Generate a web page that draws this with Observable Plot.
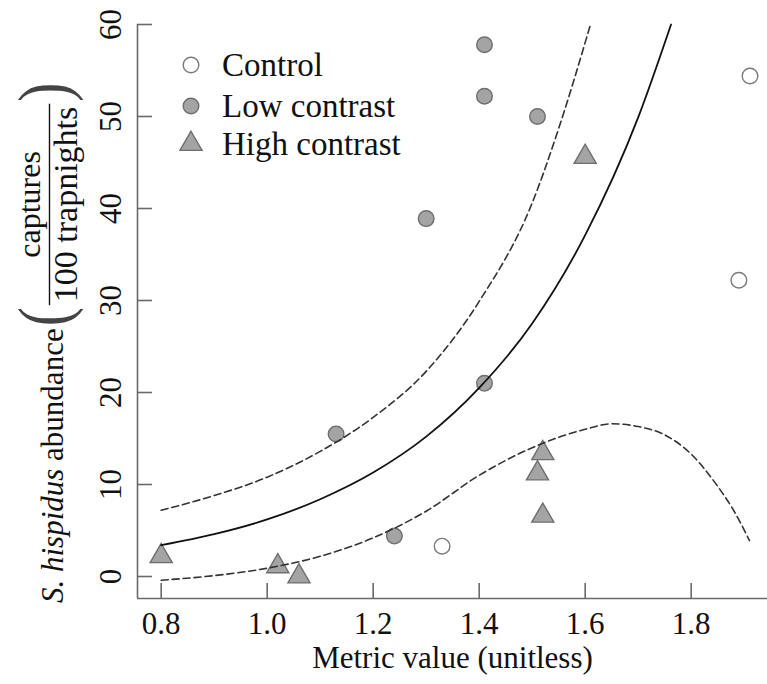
<!DOCTYPE html>
<html><head><meta charset="utf-8">
<script src="https://cdn.jsdelivr.net/npm/d3@7"></script>
<script src="https://cdn.jsdelivr.net/npm/@observablehq/plot@0.6"></script>
<style>
html,body{margin:0;padding:0;background:#fff;}
#wrap{position:relative;width:767px;height:684px;}
</style></head><body><div id="wrap"></div>
<script>
// ---- data ----
const controlX = [1.911, 1.890, 1.330];
const controlY = [54.4, 32.2, 3.3];
const lowX = [1.41, 1.41, 1.51, 1.30, 1.13, 1.24, 1.41];
const lowY = [57.8, 52.2, 50.0, 38.9, 15.5, 4.4, 21.0];
const highX = [0.80, 1.02, 1.06, 1.52, 1.51, 1.52, 1.60];
const highY = [2.2, 1.1, 0.0, 13.4, 11.2, 6.6, 45.6];

const fitX = [0.8, 0.9, 1.0, 1.1, 1.2, 1.3, 1.4, 1.5, 1.6, 1.7, 1.762];
const fitY = [3.4, 4.6, 6.2, 8.4, 11.3, 15.2, 20.5, 27.5, 37.1, 49.9, 60];
const upperX = [0.8, 0.9, 1.0, 1.1, 1.2, 1.3, 1.4, 1.5, 1.55, 1.61];
const upperY = [7.2, 8.8, 10.8, 13.6, 17.3, 22.3, 29.9, 40.6, 48.7, 60];
const lowerX = [0.8, 0.9, 1.0, 1.1, 1.2, 1.3, 1.4, 1.5, 1.6, 1.65, 1.7, 1.75, 1.8, 1.85, 1.88, 1.91];
const lowerY = [-0.4, 0.1, 0.9, 2.2, 4.2, 7.1, 11.0, 14.0, 16.0, 16.6, 16.3, 15.4, 13.3, 9.8, 7.2, 3.9];

const xTicks = [0.8, 1.0, 1.2, 1.4, 1.6, 1.8];
const xTickLabels = ["0.8", "1.0", "1.2", "1.4", "1.6", "1.8"];
const yTicks = [0, 10, 20, 30, 40, 50, 60];
const yTickLabels = ["0", "10", "20", "30", "40", "50", "60"];
const groups = ["Control", "Low contrast", "High contrast"];
const xTitle = "Metric value (unitless)";
const yTitleItalic = "S. hispidus";
const yTitleRest = " abundance";
const fracNum = "captures";
const fracDen = "100 trapnights";

// ---- build tables ----
const pts = [
  ...controlX.map((x, i) => ({x, y: controlY[i], g: groups[0]})),
  ...lowX.map((x, i) => ({x, y: lowY[i], g: groups[1]})),
  ...highX.map((x, i) => ({x, y: highY[i], g: groups[2]}))
];
const fit = fitX.map((x, i) => ({x, y: fitY[i]}));
const upper = upperX.map((x, i) => ({x, y: upperY[i]}));
const lower = lowerX.map((x, i) => ({x, y: lowerY[i]}));

const xDom = [0.7553, 1.944];
const yDom = [-2.39, 60];
const W = 767, H = 684, mL = 137, mR = 0, mT = 24, mB = 86;
const frameW = W - mL - mR, frameH = H - mT - mB;
const axisCol = "#6a6a6a";
const fillGray = "#a4a4a4";
const strokeGray = "#6e6e6e";
const FS = 31;
const FF = '"Liberation Serif", "Times New Roman", serif';

const chart = Plot.plot({
  width: W, height: H,
  marginLeft: mL, marginRight: mR, marginTop: mT, marginBottom: mB,
  x: {domain: xDom, axis: null},
  y: {domain: yDom, axis: null},
  style: {fontFamily: FF, background: "#fff"},
  marks: [
    Plot.ruleY([yDom[0]], {stroke: axisCol, strokeWidth: 1.6}),
    Plot.ruleX([xDom[0]], {stroke: axisCol, strokeWidth: 1.6}),
    Plot.tickX(xTicks, {x: d => d, insetTop: frameH - 15, stroke: axisCol, strokeWidth: 1.6}),
    Plot.tickY(yTicks, {y: d => d, insetRight: frameW - 15, stroke: axisCol, strokeWidth: 1.6}),
    Plot.text(xTicks, {x: d => d, frameAnchor: "bottom", dy: 13, lineAnchor: "top",
      text: (d, i) => xTickLabels[i], fontSize: FS, fontFamily: FF, fill: "#111"}),
    Plot.text(yTicks, {y: d => d, frameAnchor: "left", dx: -26, rotate: -90,
      textAnchor: "middle", lineAnchor: "middle", text: (d, i) => yTickLabels[i], fontSize: FS, fontFamily: FF, fill: "#111"}),
    Plot.text([xTitle], {frameAnchor: "bottom", dy: 60, lineAnchor: "middle", text: d => d, fontSize: FS, fontFamily: FF, fill: "#111"}),
    Plot.dot(pts.filter(d => d.g === groups[0]), {x: "x", y: "y", r: 7.8, fill: "#fff", stroke: "#7a7a7a", strokeWidth: 1.4}),
    Plot.dot(pts.filter(d => d.g === groups[1]), {x: "x", y: "y", r: 7.8, fill: fillGray, stroke: strokeGray, strokeWidth: 1.4}),
    Plot.dot(pts.filter(d => d.g === groups[2]), {x: "x", y: "y", r: 8.2, symbol: "triangle", fill: fillGray, stroke: strokeGray, strokeWidth: 1.4}),
    Plot.line(upper, {x: "x", y: "y", curve: "monotone-x", stroke: "#333", strokeWidth: 1.6, strokeDasharray: "7,4"}),
    Plot.line(lower, {x: "x", y: "y", curve: "monotone-x", stroke: "#333", strokeWidth: 1.6, strokeDasharray: "7,4"}),
    Plot.line(fit, {x: "x", y: "y", curve: "monotone-x", stroke: "#111", strokeWidth: 1.8})
  ]
});
document.getElementById("wrap").appendChild(chart);

const svg = d3.select(chart);
// ---- legend ----
const leg = svg.append("g").attr("font-size", 33).attr("fill", "#111").attr("text-anchor", "start").attr("font-family", FF);
const legRows = [65, 106, 144];
groups.forEach((g, i) => {
  const cy = legRows[i];
  if (i === 0) leg.append("circle").attr("cx", 191).attr("cy", cy).attr("r", 7.8).attr("fill", "#fff").attr("stroke", "#7a7a7a").attr("stroke-width", 1.4);
  if (i === 1) leg.append("circle").attr("cx", 191).attr("cy", cy).attr("r", 7.8).attr("fill", fillGray).attr("stroke", strokeGray).attr("stroke-width", 1.4);
  if (i === 2) leg.append("path").attr("transform", `translate(191,${cy})`).attr("d", d3.symbol(d3.symbolTriangle, Math.PI * 8.2 * 8.2)()).attr("fill", fillGray).attr("stroke", strokeGray).attr("stroke-width", 1.4);
  leg.append("text").attr("x", 222).attr("y", cy + 11).text(g);
});

// ---- y title (rotated, reads bottom to top) ----
const yt = svg.append("g").attr("fill", "#111").attr("text-anchor", "start").attr("font-family", FF);
let s = 603; // screen y where the title starts
const main = yt.append("text").attr("transform", `translate(63,${s}) rotate(-90)`).attr("font-size", 31);
main.append("tspan").attr("font-style", "italic").text(yTitleItalic);
main.append("tspan").text(yTitleRest);
s -= main.node().getComputedTextLength() + 2;
const pf = 46, psx = 1.25, psy = 1.55;
const lp = yt.append("text").attr("transform", `translate(${50 + 0.255 * pf * psy},${s}) rotate(-90) scale(${psx},${psy})`).attr("font-size", pf).attr("fill", "#444").text("(");
s -= lp.node().getComputedTextLength() * psx + 2;
const num = yt.append("text").attr("font-size", 32).attr("text-anchor", "middle").text(fracNum);
const den = yt.append("text").attr("font-size", 34).attr("text-anchor", "middle").text(fracDen);
const fl = Math.max(num.node().getComputedTextLength(), den.node().getComputedTextLength()) + 6;
const fc = s - fl / 2;
num.attr("transform", `translate(40,${fc}) rotate(-90)`);
den.attr("transform", `translate(77,${fc}) rotate(-90)`);
yt.append("line").attr("x1", 49.5).attr("x2", 49.5).attr("y1", s).attr("y2", s - fl).attr("stroke", "#111").attr("stroke-width", 1.4);
s -= fl + 2;
yt.append("text").attr("transform", `translate(${50 + 0.255 * pf * psy},${s}) rotate(-90) scale(${psx},${psy})`).attr("font-size", pf).attr("fill", "#444").text(")");
</script></body></html>
